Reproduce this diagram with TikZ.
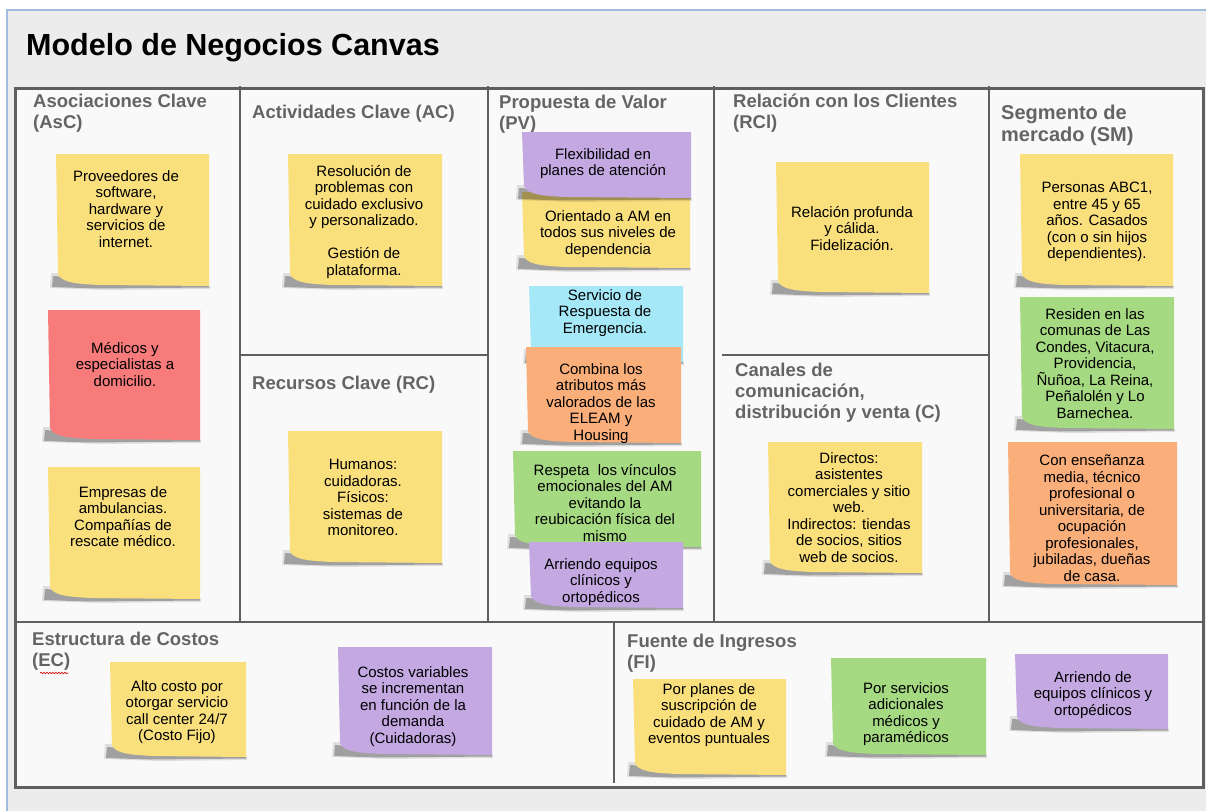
\documentclass[tikz,border=0pt]{standalone}
\usepackage{fontspec}
\setmainfont{Liberation Sans}
\usetikzlibrary{decorations.pathmorphing}
\definecolor{bandgray}{RGB}{236,236,236}
\definecolor{canvasbg}{RGB}{249,249,249}
\definecolor{linegray}{RGB}{95,95,95}
\definecolor{titlegray}{RGB}{100,100,100}
\definecolor{framblue}{RGB}{160,188,224}
\definecolor{nyellow}{RGB}{250,223,125}
\definecolor{nred}{RGB}{248,123,123}
\definecolor{npurple}{RGB}{195,168,226}
\definecolor{ncyan}{RGB}{165,232,248}
\definecolor{norange}{RGB}{250,174,122}
\definecolor{ngreen}{RGB}{165,217,130}
\newcommand\stickynote[5]{%
  \fill[black,opacity=.10] (#1-5,#4-13) -- (#1-6,#4+2) -- (#1+50,#4+4) -- (#3+1,#4+3) -- (#3+1,#4) -- (#1,#4-13) -- cycle;
  \fill[black,opacity=.28] (#1-3,#4-10) -- (#1-4,#4+1) -- (#1+40,#4+2.5) -- (#3,#4+1.5) -- (#3,#4) -- cycle;
  \fill[#5] (#1,#2) -- (#3,#2) -- (#3,#4) -- (#1+45,#4-1) .. controls (#1+18,#4-2) and (#1+5,#4-4) .. (#1+2,#4-12) -- cycle;
}
\tikzset{
  nt/.style={font=\fontsize{15}{16.5}\selectfont, align=center, inner sep=0pt, anchor=north, text=black},
  ttl/.style={font=\bfseries\fontsize{18.5}{21}\selectfont, align=left, inner sep=0pt, anchor=north west, text=titlegray},
  divider/.style={draw=linegray, line width=2.2pt},
}
\begin{document}
\begin{tikzpicture}[x=1pt,y=-1pt]
\useasboundingbox (0,0) rectangle (1206,811);
\fill[white] (0,0) rectangle (1206,811);
\fill[bandgray] (7,10) rectangle (1206,811);
\draw[framblue, line width=1.5pt] (7,811) -- (7,10) -- (1206,10);
\node[font=\bfseries\fontsize{30.5}{33}\selectfont, inner sep=0pt, anchor=north west] (title) at (26,33) {Modelo de Negocios Canvas};
% canvas
\filldraw[fill=canvasbg, draw=linegray, line width=3pt] (15,88) rectangle (1203,787);
\draw[divider] (15,622) -- (1203,622);
\draw[divider] (240,86) -- (240,622);
\draw[divider] (488,86) -- (488,622);
\draw[divider] (714,86) -- (714,622);
\draw[divider] (989,86) -- (989,622);
\draw[divider] (240,355) -- (488,355);
\draw[divider] (722,355) -- (989,355);
\draw[divider] (614,622) -- (614,783);
% titles
\node[ttl] (tAsC) at (33,94) {Asociaciones Clave\\(AsC)};
\node[ttl] (tAC) at (252,105) {Actividades Clave (AC)};
\node[ttl] (tPV) at (499,95) {Propuesta de Valor\\(PV)};
\node[ttl] (tRCl) at (733,94) {Relación con los Clientes\\(RCl)};
\node[ttl, font=\bfseries\fontsize{20}{22}\selectfont] (tSM) at (1001,105) {Segmento de\\mercado (SM)};
\node[ttl] (tRC) at (252,376) {Recursos Clave (RC)};
\node[ttl] (tC) at (735,363) {Canales de\\comunicación,\\distribución y venta (C)};
\node[ttl] (tEC) at (32,632) {Estructura de Costos\\(EC)};
\node[ttl] (tFI) at (627,634) {Fuente de Ingresos\\(FI)};
\draw[red!80!black, line width=0.6pt, decorate, decoration={snake, amplitude=0.8pt, segment length=3pt}] (40,673) -- (68,673);
% Asociaciones clave
\stickynote{56}{154}{209}{286}{nyellow}
\node[nt] (asc1) at (126,170) {Proveedores de\\software,\\hardware y\\servicios de\\internet.};
\stickynote{48}{310}{200}{440}{nred}
\node[nt] (asc2) at (125,342) {Médicos y\\especialistas a\\domicilio.};
\stickynote{48}{467}{200}{599}{nyellow}
\node[nt] (asc3) at (123,486) {Empresas de\\ambulancias.\\Compañías de\\rescate médico.};
% Actividades / Recursos
\stickynote{288}{154}{442}{286}{nyellow}
\node[nt] (ac1) at (364,165) {Resolución de\\problemas con\\cuidado exclusivo\\y personalizado.\\[16.5pt]Gestión de\\plataforma.};
\stickynote{288}{431}{442}{563}{nyellow}
\node[nt] (rc1) at (363,459) {Humanos:\\cuidadoras.\\Físicos:\\sistemas de\\monitoreo.};
% Propuesta de valor
\stickynote{522}{192}{690}{268}{nyellow}
\node[nt] (pv2) at (608,210) {Orientado a AM en\\todos sus niveles de\\dependencia};
\stickynote{522}{132}{691}{198}{npurple}
\node[nt] (pv1) at (603,148) {Flexibilidad en\\planes de atención};
\stickynote{529}{286}{683}{362}{ncyan}
\node[nt] (pv3) at (605,289) {Servicio de\\Respuesta de\\Emergencia.};
\stickynote{526}{347}{681}{443}{norange}
\node[nt] (pv4) at (601,363) {Combina los\\atributos más\\valorados de las\\ELEAM y\\Housing};
\stickynote{513}{451}{701}{547}{ngreen}
\node[nt] (pv5) at (605,464) {Respeta\ \ los vínculos\\emocionales del AM\\evitando la\\reubicación física del\\mismo};
\stickynote{529}{542}{683}{608}{npurple}
\node[nt] (pv6) at (601,558) {Arriendo equipos\\clínicos y\\ortopédicos};
% Relacion / canales
\stickynote{776}{162}{929}{293}{nyellow}
\node[nt] (rcl1) at (852,206) {Relación profunda\\y cálida.\\Fidelización.};
\stickynote{768}{442}{922}{573}{nyellow}
\node[nt] (c1) at (849,452) {Directos:\\asistentes\\comerciales y sitio\\web.\\Indirectos: tiendas\\de socios, sitios\\web de socios.};
% Segmento
\stickynote{1020}{154}{1173}{286}{nyellow}
\node[nt] (sm1) at (1097,182) {Personas ABC1,\\entre 45 y 65\\años. Casados\\(con o sin hijos\\dependientes).};
\stickynote{1020}{297}{1174}{429}{ngreen}
\node[nt] (sm2) at (1095,308) {Residen en las\\comunas de Las\\Condes, Vitacura,\\Providencia,\\Ñuñoa, La Reina,\\Peñalolén y Lo\\Barnechea.};
\stickynote{1008}{442}{1177}{585}{norange}
\node[nt] (sm3) at (1092,455) {Con enseñanza\\media, técnico\\profesional o\\universitaria, de\\ocupación\\profesionales,\\jubiladas, dueñas\\de casa.};
% Costos
\stickynote{110}{662}{246}{757}{nyellow}
\node[nt] (ec1) at (177,680) {Alto costo por\\otorgar servicio\\call center 24/7\\(Costo Fijo)};
\stickynote{338}{647}{492}{755}{npurple}
\node[nt] (ec2) at (413,666) {Costos variables\\se incrementan\\en función de la\\demanda\\(Cuidadoras)};
% Ingresos
\stickynote{633}{679}{786}{775}{nyellow}
\node[nt] (fi1) at (709,683) {Por planes de\\suscripción de\\cuidado de AM y\\eventos puntuales};
\stickynote{831}{658}{986}{755}{ngreen}
\node[nt] (fi2) at (906,682) {Por servicios\\adicionales\\médicos y\\paramédicos};
\stickynote{1015}{654}{1168}{729}{npurple}
\node[nt] (fi3) at (1093,671) {Arriendo de\\equipos clínicos y\\ortopédicos};
\end{tikzpicture}
\end{document}
